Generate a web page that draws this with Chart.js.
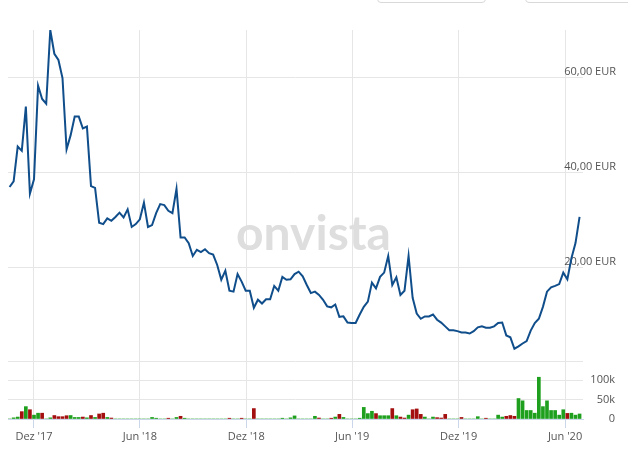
<!DOCTYPE html>
<html lang="de">
<head>
<meta charset="UTF-8">
<title>Kursverlauf</title>
<script src="https://cdn.jsdelivr.net/npm/chart.js@4"></script>
<style>
  html,body{margin:0;padding:0;background:#fff;}
  #wrap{position:relative;width:628px;height:452px;overflow:hidden;}
  #price{position:absolute;left:0;top:0;}
  #vol{position:absolute;left:0;top:355px;}
  .btn{position:absolute;top:-30px;height:31px;border:1px solid #d9d9d9;border-radius:4px;background:#fff;}
</style>
</head>
<body>
<div id="wrap">
  <div class="btn" style="left:377px;width:107px"></div>
  <div class="btn" style="left:525px;width:110px"></div>
  <canvas id="price" width="628" height="363"></canvas>
  <canvas id="vol" width="628" height="97"></canvas>
</div>
<script>
// Wochenschlusskurse in EUR, erste Woche ab startDate
const startDate = '2017-10-20';
const prices = [
  37.0, 38.2, 45.5, 44.6, 53.9, 35.6, 38.6, 58.3, 55.5, 54.5,
  70.0, 65.0, 63.7, 59.9, 44.9, 47.9, 51.8, 51.8, 49.3, 49.7,
  37.2, 36.8, 29.5, 29.2, 30.4, 29.9, 30.7, 31.6, 30.6, 32.3,
  28.6, 29.2, 30.2, 33.7, 28.6, 29.0, 31.5, 33.4, 33.2, 32.0,
  31.5, 36.6, 26.4, 26.4, 25.2, 22.5, 23.8, 23.3, 23.9, 23.1,
  22.8, 20.6, 17.5, 19.4, 15.2, 15.0, 18.7, 17.1, 15.2, 15.2,
  11.6, 13.3, 12.5, 13.4, 13.4, 16.2, 15.2, 18.1, 17.5, 17.6,
  18.7, 19.2, 18.2, 16.4, 14.7, 15.0, 14.3, 13.3, 11.9, 11.7,
  12.3,  9.7,  9.8,  8.5,  8.4,  8.4, 10.2, 11.8, 12.9, 16.9,
  15.7, 18.1, 19.0, 22.5, 16.4, 18.0, 14.3, 15.2, 22.5, 13.7,
  10.4,  9.3,  9.8,  9.8, 10.2,  9.1,  8.5,  7.7,  6.9,  6.9,
   6.7,  6.4,  6.4,  6.2,  6.7,  7.5,  7.7,  7.4,  7.4,  7.7,
   8.4,  8.5,  5.8,  5.4,  3.0,  3.5,  4.1,  4.6,  6.8,  8.4,
   9.3, 11.8, 15.0, 15.9, 16.2, 16.6, 19.0, 17.6, 22.0, 25.2,
  30.7
];
// Wochenumsatz in Tsd. Stück
const volumes = [
   0,   3,   5,  19,  32,  24,  10,  15,  15,   0,
   3,   9,   6,   6, 8.5,   9,   4,   4,   5,   3,
   9,   4,  13,  15,   4, 2.5,   0,   0,   0,   0,
   0,   0,   0,   0,   0,   4,   2,   0,   0,   2,
   0,   4,   7,   2,   0,   0,   0,   0,   0,   0,
   0,   0,   0,   0,   2,   0,   0,   2,   0,   0,
  27,   0,   0,   0,   0,   0,   0,   2,   0,   3,
   8,   0,   0,   0,   0,   7, 2.5,   0,   0,   2,
   5,  12,   4,   0,   0,   0,   2,  30,  14,  20,
  14, 8.5, 8.5, 8.5,  27, 8.5,   5, 2.5,  10,  24,
  26,  12,   5,   0,   5, 3.5, 2.5,  12,   0,   0,
   0,   4,   0,   0,   0,   6,   0,   2,   0,   0,
  10,   5,   7,   9,   7,  53,  47,  22,  22,  15,
 108,  32,  47,  22,  22,  10,  24, 14.5, 15,  10,
  13
];
// u = Kurs gestiegen, d = Kurs gefallen
const volDir = [
  'u','u','u','d','u','d','u','u','d','u',
  'u','d','d','d','d','u','u','u','d','u',
  'd','u','d','d','u','d','u','u','u','u',
  'u','u','u','u','u','u','u','u','u','d',
  'u','u','d','u','u','u','u','u','u','u',
  'u','u','u','u','d','u','u','d','u','u',
  'd','u','u','u','u','u','u','u','u','u',
  'u','u','u','u','u','u','d','u','u','d',
  'u','d','u','u','u','u','u','u','u','u',
  'd','u','u','u','d','u','d','d','u','d',
  'd','d','u','u','u','d','d','d','u','u',
  'u','d','u','u','u','u','u','d','u','u',
  'u','u','d','d','d','u','u','u','u','u',
  'u','u','u','u','u','u','u','d','u','u',
  'u'
];
const tickDates = ['2017-12-01', '2018-06-01', '2018-12-01', '2019-06-01', '2019-12-01', '2020-06-01'];
const tickLabels = ["Dez '17", "Jun '18", "Dez '18", "Jun '19", "Dez '19", "Jun '20"];
const priceTicks = [20, 40, 60];
const volTicks = [0, 50, 100, 150];

const DAY = 864e5;
const dayOf = s => Date.parse(s + 'T00:00:00Z') / DAY;
const x0 = dayOf(startDate);
const xs = prices.map((_, i) => x0 + 7 * i);
const xTicks = tickDates.map(dayOf);

const FONT = {family: "'Open Sans', sans-serif", size: 11};
const GRID = '#e6e6e6';
const AXIS = '#ccd6eb';
const noPad = s => { s.paddingTop = s.paddingBottom = s.paddingLeft = s.paddingRight = 0; };

function xScale(withLabels) {
  return {
    type: 'linear',
    min: x0 - 2.7,
    max: xs[xs.length - 1] + 5.9,
    offset: false,
    afterBuildTicks: s => { s.ticks = xTicks.map(v => ({value: v})); },
    afterFit: s => { noPad(s); if (withLabels) s.height = 33; },
    grid: {color: GRID, offset: false, drawTicks: withLabels, tickLength: 9, tickColor: AXIS},
    border: {display: withLabels, color: AXIS},
    ticks: {
      display: withLabels, autoSkip: false, maxRotation: 0, padding: 2,
      color: '#555', font: FONT,
      callback: v => tickLabels[xTicks.indexOf(v)] ?? ''
    }
  };
}

// onvista-Schriftzug im Hintergrund
const watermark = {
  id: 'watermark',
  beforeDatasetsDraw(chart) {
    const ctx = chart.ctx;
    ctx.save();
    ctx.font = 'bold 48px Lato';
    ctx.fillStyle = '#dedede';
    ctx.textBaseline = 'alphabetic';
    ctx.fillText('onvista', 236, 250);
    ctx.restore();
  }
};

new Chart(document.getElementById('price'), {
  type: 'line',
  data: {
    datasets: [{
      data: xs.map((x, i) => ({x, y: prices[i]})),
      borderColor: '#104e8b',
      borderWidth: 2,
      pointRadius: 0,
      tension: 0,
      fill: false
    }]
  },
  options: {
    responsive: false,
    animation: false,
    layout: {padding: {top: 30, left: 8, right: 0, bottom: 0}},
    plugins: {legend: {display: false}, tooltip: {enabled: false}},
    scales: {
      x: xScale(false),
      y: {
        position: 'right',
        min: 0,
        max: 70,
        afterBuildTicks: s => { s.ticks = priceTicks.map(v => ({value: v})); },
        afterFit: s => { noPad(s); s.width = 45; },
        grid: {color: GRID, drawTicks: false},
        border: {display: false},
        ticks: {
          mirror: true, crossAlign: 'near', padding: 33, labelOffset: -6,
          color: '#555', font: FONT,
          callback: v => v.toFixed(2).replace('.', ',') + ' EUR'
        }
      }
    }
  },
  plugins: [watermark]
});

new Chart(document.getElementById('vol'), {
  type: 'bar',
  data: {
    datasets: [{
      data: xs.map((x, i) => ({x, y: volumes[i]})),
      backgroundColor: volDir.map(d => d === 'u' ? '#1ea01e' : '#a30f0f'),
      barThickness: 3,
      borderWidth: 0
    }]
  },
  options: {
    responsive: false,
    animation: false,
    layout: {padding: {top: 6, left: 8, right: 13, bottom: 0}},
    plugins: {legend: {display: false}, tooltip: {enabled: false}},
    scales: {
      x: xScale(true),
      y: {
        position: 'right',
        min: 0,
        max: 150,
        afterBuildTicks: s => { s.ticks = volTicks.map(v => ({value: v})); },
        afterFit: s => { noPad(s); s.width = 32; },
        grid: {color: GRID, drawTicks: false},
        border: {display: false},
        ticks: {
          crossAlign: 'far', padding: 0, color: '#555', font: FONT,
          callback: v => v === 0 ? '0' : (v < 150 ? v + 'k' : '')
        }
      }
    }
  }
});
</script>
</body>
</html>
